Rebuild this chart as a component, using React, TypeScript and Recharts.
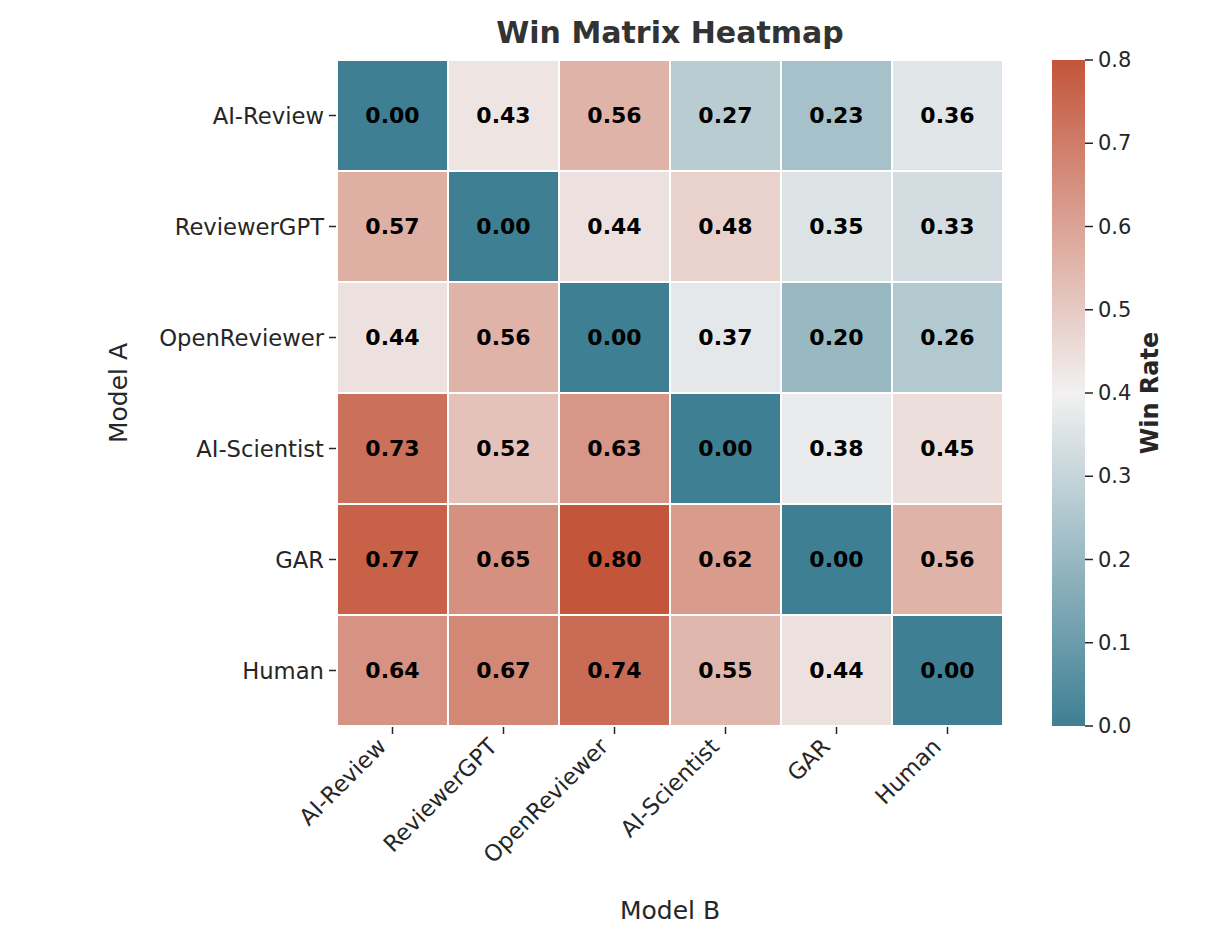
import React from 'react';
import { ScatterChart, Scatter, XAxis, YAxis, BarChart, Bar } from 'recharts';

const MODELS = ['AI-Review', 'ReviewerGPT', 'OpenReviewer', 'AI-Scientist', 'GAR', 'Human'];

// rows = Model A, columns = Model B
const AI_REVIEW = [0.0, 0.43, 0.56, 0.27, 0.23, 0.36];
const REVIEWER_GPT = [0.57, 0.0, 0.44, 0.48, 0.35, 0.33];
const OPEN_REVIEWER = [0.44, 0.56, 0.0, 0.37, 0.2, 0.26];
const AI_SCIENTIST = [0.73, 0.52, 0.63, 0.0, 0.38, 0.45];
const GAR = [0.77, 0.65, 0.8, 0.62, 0.0, 0.56];
const HUMAN = [0.64, 0.67, 0.74, 0.55, 0.44, 0.0];

const WIN_ROWS = [AI_REVIEW, REVIEWER_GPT, OPEN_REVIEWER, AI_SCIENTIST, GAR, HUMAN];
const CELL_TICKS = [0.5, 1.5, 2.5, 3.5, 4.5, 5.5];
const CBAR_TICKS = [0, 0.1, 0.2, 0.3, 0.4, 0.5, 0.6, 0.7, 0.8];

const FONT = '"DejaVu Sans", sans-serif';
const TEXT = '#262626';

const W = 1218;
const H = 947;
const PLOT_LEFT = 337;
const PLOT_TOP = 60;
const PLOT_SIZE = 666;
const CELL = PLOT_SIZE / MODELS.length;

const LOW = [62, 127, 147];
const MID = [242, 241, 241];
const HIGH = [195, 85, 58];

function colorFor(v: number) {
  const t = Math.max(0, Math.min(1, v / 0.8));
  let a, b, f;
  if (t < 0.5) { a = LOW; b = MID; f = t / 0.5; } else { a = MID; b = HIGH; f = (t - 0.5) / 0.5; }
  const c = a.map((x, i) => Math.round(x + (b[i] - x) * f));
  return `rgb(${c[0]},${c[1]},${c[2]})`;
}

const cells = WIN_ROWS.flatMap((row, i) =>
  row.map((v, j) => ({ row: i + 0.5, col: j + 0.5, value: v }))
);

const CellShape = (props: any) => {
  const { cx, cy, payload } = props;
  return (
    <g>
      <rect x={cx - CELL / 2} y={cy - CELL / 2} width={CELL} height={CELL}
        fill={colorFor(payload.value)} stroke="#fff" strokeWidth={2} />
      <text x={cx} y={cy} textAnchor="middle" dominantBaseline="central"
        fontFamily={FONT} fontWeight="bold" fontSize={22} fill="#000">
        {payload.value.toFixed(2)}
      </text>
    </g>
  );
};

const nameAt = (v: number) => MODELS[Math.floor(v)];

const XTick = (props: any) => {
  const { x, y, payload } = props;
  const tx = x - 5;
  const ty = y + 12;
  return (
    <text x={tx} y={ty} transform={`rotate(-45, ${tx}, ${ty})`}
      textAnchor="end" fontFamily={FONT} fontSize={22.7} fill={TEXT}>
      {nameAt(payload.value)}
    </text>
  );
};

const YTick = (props: any) => {
  const { x, y, payload } = props;
  return (
    <text x={x} y={y} textAnchor="end" dominantBaseline="central"
      fontFamily={FONT} fontSize={22.7} fill={TEXT}>
      {nameAt(payload.value)}
    </text>
  );
};

const CTick = (props: any) => {
  const { x, y, payload } = props;
  return (
    <text x={x} y={y} textAnchor="start" dominantBaseline="central"
      fontFamily={FONT} fontSize={21} fill={TEXT}>
      {payload.value.toFixed(1)}
    </text>
  );
};

export default function App() {
  const gradStops = CBAR_TICKS.map((t) => ({ off: 1 - t / 0.8, color: colorFor(t) }));
  return (
    <div style={{ position: 'absolute', left: 0, top: 0, width: W, height: H, background: '#fff' }}>
      <div style={{ position: 'absolute', left: 0, top: 0 }}>
        <ScatterChart width={W} height={H}
          margin={{ top: PLOT_TOP, left: PLOT_LEFT - 250, right: W - PLOT_LEFT - PLOT_SIZE, bottom: H - PLOT_TOP - PLOT_SIZE - 150 }}>
          <XAxis type="number" dataKey="col" domain={[0, 6]} ticks={CELL_TICKS} height={150}
            axisLine={false} tickLine={{ stroke: TEXT, strokeWidth: 1.5 }} tickSize={8} tick={<XTick />} interval={0} />
          <YAxis type="number" dataKey="row" domain={[0, 6]} ticks={CELL_TICKS} width={250} reversed
            axisLine={false} tickLine={{ stroke: TEXT, strokeWidth: 1.5 }} tickSize={8} tickMargin={5} tick={<YTick />} interval={0} />
          <Scatter data={cells} shape={<CellShape />} isAnimationActive={false} />
        </ScatterChart>
      </div>
      <div style={{ position: 'absolute', left: 1052, top: 0 }}>
        <BarChart width={160} height={H} data={[{ name: 'cbar', v: 0.8 }]} barCategoryGap={0}
          margin={{ top: PLOT_TOP, bottom: H - PLOT_TOP - PLOT_SIZE, left: 0, right: 0 }}>
          <defs>
            <linearGradient id="cbGrad" x1="0" y1="0" x2="0" y2="1">
              {gradStops.slice().reverse().map((s, i) => (
                <stop key={i} offset={s.off} stopColor={s.color} />
              ))}
            </linearGradient>
          </defs>
          <XAxis dataKey="name" hide />
          <YAxis orientation="right" domain={[0, 0.8]} ticks={CBAR_TICKS} width={127} type="number"
            axisLine={false} tickLine={{ stroke: TEXT, strokeWidth: 1.5 }} tickSize={8} tickMargin={5} tick={<CTick />} interval={0} />
          <Bar dataKey="v" fill="url(#cbGrad)" isAnimationActive={false} />
        </BarChart>
      </div>
      <svg width={W} height={H} style={{ position: 'absolute', left: 0, top: 0, pointerEvents: 'none' }}>
        <text x={670} y={32} textAnchor="middle" dominantBaseline="central" fontFamily={FONT}
          fontWeight="bold" fontSize={30} fill="#333">Win Matrix Heatmap</text>
        <text x={670} y={910} textAnchor="middle" dominantBaseline="central" fontFamily={FONT}
          fontSize={25} fill={TEXT}>Model B</text>
        <text x={118} y={393} textAnchor="middle" dominantBaseline="central" fontFamily={FONT}
          fontSize={25} fill={TEXT} transform="rotate(-90, 118, 393)">Model A</text>
        <text x={1150} y={393} textAnchor="middle" dominantBaseline="central" fontFamily={FONT}
          fontWeight="bold" fontSize={24} fill={TEXT} transform="rotate(-90, 1150, 393)">Win Rate</text>
      </svg>
    </div>
  );
}
